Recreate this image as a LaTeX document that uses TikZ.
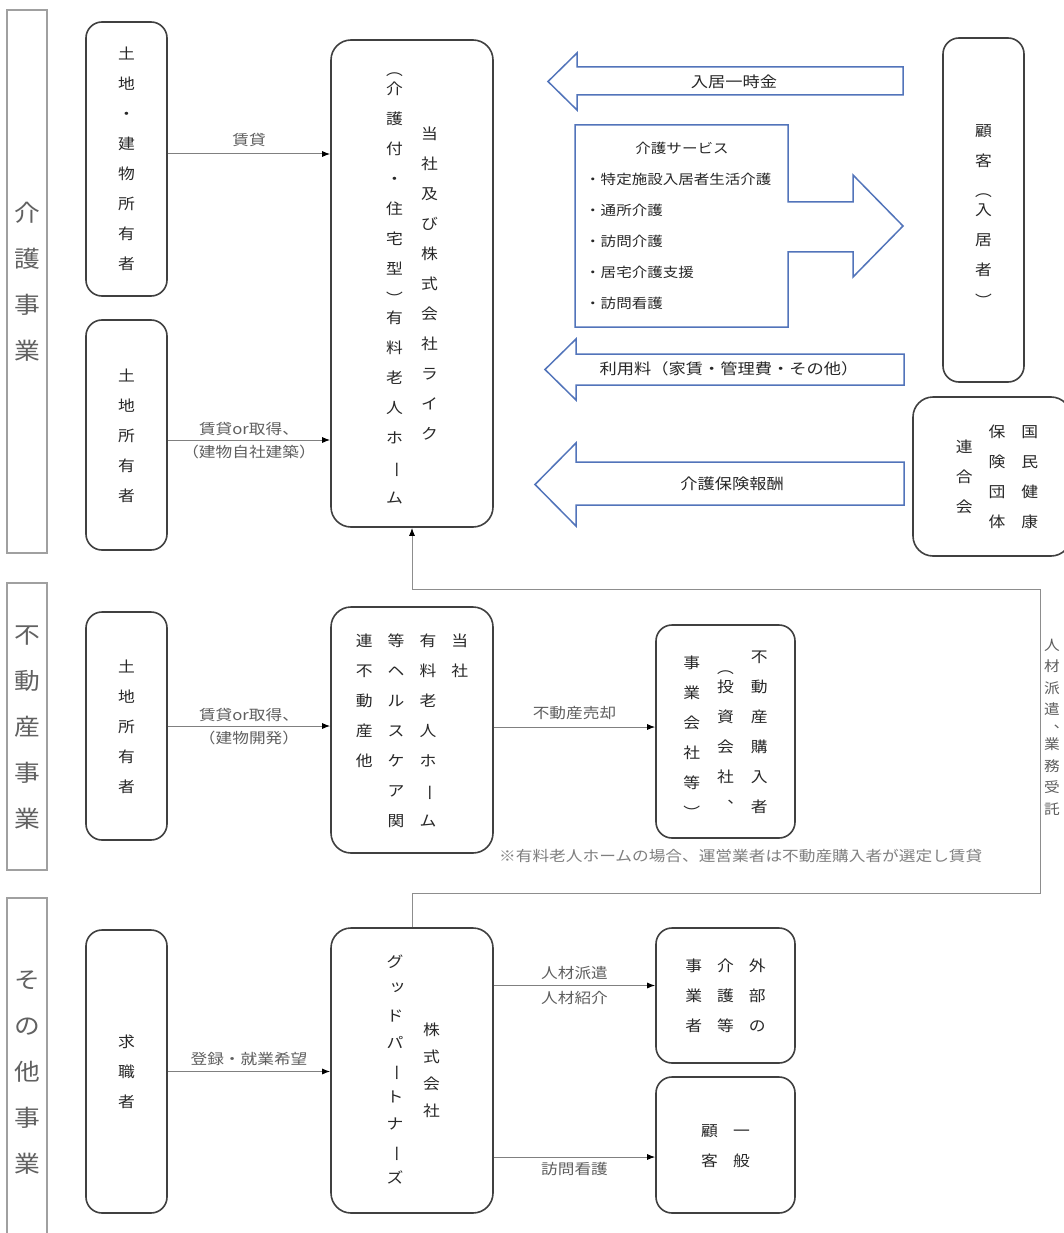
\documentclass[tikz,border=0pt]{standalone}
\usepackage{fontspec}
\setmainfont{Noto Sans CJK JP}[FakeStretch=1.15]
\newfontfamily\vfont{Noto Sans CJK JP}[FakeStretch=1.12]
\usepackage{array}
\usepackage{graphicx}
\usetikzlibrary{arrows.meta,positioning,calc}
\definecolor{boxgrey}{RGB}{64,64,64}
\definecolor{secgrey}{RGB}{160,160,160}
\definecolor{linegrey}{RGB}{128,128,128}
\definecolor{labelgrey}{RGB}{95,95,95}
\definecolor{flowblue}{RGB}{82,116,186}
\definecolor{textdark}{RGB}{40,40,40}
\newlength\vhalf
\setlength\vhalf{11pt}
% one character per row, rows stacked top to bottom
\ExplSyntaxOn
\NewDocumentCommand\vcol{O{c}m}
 {
  \tl_clear:N \l_tmpa_tl
  \tl_map_inline:nn {#2}
   {
    \str_case:nnF {##1}
     {
      {（} { \tl_put_right:Nn \l_tmpa_tl { ︵ \\[-\vhalf] } }
      {）} { \tl_put_right:Nn \l_tmpa_tl { ︶ \\[-\vhalf] } }
      {、} { \tl_put_right:Nn \l_tmpa_tl { ︑ \\[-\vhalf] } }
      {ー} { \tl_put_right:Nn \l_tmpa_tl { \rotatebox[origin=c]{-90}{ー} \\ } }
      {ッ} { \tl_put_right:Nn \l_tmpa_tl { \hspace*{5pt}\raisebox{3pt}{ッ} \\ } }
     }
     { \tl_put_right:Nn \l_tmpa_tl { ##1 \\ } }
   }
  \begin{tabular}[#1]{@{}c@{}} \l_tmpa_tl \end{tabular}
 }
\ExplSyntaxOff
\begin{document}
\begin{tikzpicture}[x=1pt, y=-1pt,
    sect/.style={rectangle, draw=secgrey, line width=1.3pt, minimum width=40pt, inner sep=0pt,
                 text=black!62, font=\vfont\fontsize{23}{46}\selectfont},
    card/.style={rectangle, draw=boxgrey, line width=1.6pt, rounded corners=16pt, inner sep=0pt,
                 text=textdark, font=\vfont\fontsize{15}{30}\selectfont},
    owner/.style={card, minimum width=81pt},
    arr/.style={draw=linegrey, line width=1pt, -{Latex[black,length=8pt,width=6pt]}},
    loopline/.style={draw=linegrey!90, line width=1pt, -{Latex[black,length=8pt,width=6pt]}},
    lbl/.style={font=\fontsize{14.5}{16}\selectfont, text=labelgrey, inner sep=2pt},
    flow/.style={draw=flowblue, line width=1.5pt, line join=miter},
    flowtxt/.style={font=\fontsize{15}{18}\selectfont, text=textdark, inner sep=0pt}
]
\useasboundingbox (0,0) rectangle (1064,1233);
\clip (0,0) rectangle (1064,1233);
\fill[white] (0,0) rectangle (1064,1233);

% business sections
\node[sect, minimum height=543pt] (seccare) at (27,281.5) {\vcol{介護事業}};
\node[sect, minimum height=287pt] (secreal) at (27,726.5) {\vcol{不動産事業}};
\node[sect, minimum height=346pt] (secother) at (27,1071) {\vcol{その他事業}};

% care business
\node[owner, minimum height=274pt] (own1) at (126.5,159) {\vcol{土地・建物所有者}};
\node[owner, minimum height=230pt] (own2) at (126.5,435) {\vcol{土地所有者}};
\node[card, minimum width=162pt, minimum height=487pt, rounded corners=20pt] (life) at (412,283.5)
    {\vcol{（介護付・住宅型）有料老人ホーム}\hspace{18pt}\vcol{当社及び株式会社ライク}};
\node[owner, minimum height=344pt] (cust) at (983.5,210) {\vcol{顧客（入居者）}};
\node[card, minimum width=158pt, minimum height=159pt, rounded corners=20pt] (kokuho) at (992,476.5)
    {\hspace*{10pt}\vcol{連合会}\hspace{16pt}\vcol{保険団体}\hspace{16pt}\vcol{国民健康}};

\draw[arr] ([yshift=5pt]own1.east) -- ([yshift=5pt]own1.east -| life.west)
    node[lbl, midway, above, yshift=5pt] {賃貸};
\draw[arr] ([yshift=-5pt]own2.east) -- ([yshift=-5pt]own2.east -| life.west)
    node[lbl, midway, above, yshift=2pt] {賃貸or取得、}
    node[lbl, midway, below, yshift=-3pt] {（建物自社建築）};

\draw[flow] (903,67) -- (577,67) -- (577,53) -- (548,81.5) -- (577,110) -- (577,95) -- (903,95) -- cycle;
\node[flowtxt] (lump) at (734,82) {入居一時金};
\draw[flow] (575,125) -- (788,125) -- (788,202) -- (853,202) -- (853,175) -- (903,226)
    -- (853,277) -- (853,252) -- (788,252) -- (788,327) -- (575,327) -- cycle;
\node[flowtxt, font=\fontsize{13.5}{18}\selectfont] (svctitle) at (682,148) {介護サービス};
\node[flowtxt, anchor=north west, align=left, font=\fontsize{13.5}{31}\selectfont] (svclist) at (585,173)
    {・特定施設入居者生活介護\\・通所介護\\・訪問介護\\・居宅介護支援\\・訪問看護};
\draw[flow] (904,354) -- (576,354) -- (576,339) -- (545,369.5) -- (576,400) -- (576,385) -- (904,385) -- cycle;
\node[flowtxt] (usefee) at (729,369) {利用料（家賃・管理費・その他）};
\draw[flow] (904,462) -- (576,462) -- (576,443) -- (535,484.5) -- (576,526) -- (576,505) -- (904,505) -- cycle;
\node[flowtxt] (insfee) at (732,484) {介護保険報酬};

% real estate business
\node[owner, minimum height=228pt] (own3) at (126.5,726) {\vcol{土地所有者}};
\node[card, minimum width=162pt, minimum height=246pt, rounded corners=20pt] (estate) at (412,730)
    {\vcol[t]{連不動産他}\hspace{15pt}\vcol[t]{等ヘルスケア関}\hspace{15pt}\vcol[t]{有料老人ホーム}\hspace{15pt}\vcol[t]{当社}};
\node[card, minimum width=139pt, minimum height=213pt] (buyer) at (725.5,731.5)
    {\vcol{事業会社等）}\hspace{17pt}\vcol{（投資会社、}\hspace{17pt}\vcol{不動産購入者}};
\draw[arr] (own3.east) -- (own3.east -| estate.west)
    node[lbl, midway, above, yshift=2pt] {賃貸or取得、}
    node[lbl, midway, below, yshift=-3pt] {（建物開発）};
\draw[arr] ([yshift=3pt]estate.east) -- ([yshift=3pt]estate.east -| buyer.west)
    node[lbl, midway, above, yshift=5pt] {不動産売却};
\node[lbl, anchor=west, text=labelgrey!80, inner sep=0pt] (note) at (499,856)
    {※有料老人ホームの場合、運営業者は不動産購入者が選定し賃貸};

% other business
\node[owner, minimum height=283pt] (seeker) at (126.5,1071.5) {\vcol{求職者}};
\node[card, minimum width=162pt, minimum height=285pt, rounded corners=20pt,
      font=\vfont\fontsize{15}{27}\selectfont] (good) at (412,1070.5)
    {\vcol{グッドパートナーズ}\hspace{17pt}\vcol{株式会社}};
\node[card, minimum width=139pt, minimum height=135pt] (ext) at (725.5,995.5)
    {\vcol{事業者}\hspace{15pt}\vcol{介護等}\hspace{15pt}\vcol{外部の}};
\node[card, minimum width=139pt, minimum height=136pt] (general) at (725.5,1145)
    {\vcol{顧客}\hspace{15pt}\vcol{一般}};
\draw[arr] (seeker.east) -- (seeker.east -| good.west)
    node[lbl, midway, above, yshift=3pt] {登録・就業希望};
\draw[arr] ([yshift=10pt]ext.west -| good.east) -- ([yshift=10pt]ext.west)
    node[lbl, midway, above, yshift=3pt] {人材派遣}
    node[lbl, midway, below, yshift=-3pt] {人材紹介};
\draw[arr] ([yshift=-12pt]general.west -| good.east) -- ([yshift=-12pt]general.west)
    node[lbl, midway, below, yshift=-3pt] {訪問看護};

% staffing link back to the care homes
\coordinate (loopA) at (1040,893);
\coordinate (loopB) at (1040,589);
\draw[loopline] (good.north) |- (loopA) -- (loopB) -| (life.south);
\node[font=\vfont\fontsize{14}{21.5}\selectfont, text=labelgrey, inner sep=0pt] (staff) at (1052,728)
    {\setlength\vhalf{8pt}\vcol{人材派遣、業務受託}};
\end{tikzpicture}
\end{document}
